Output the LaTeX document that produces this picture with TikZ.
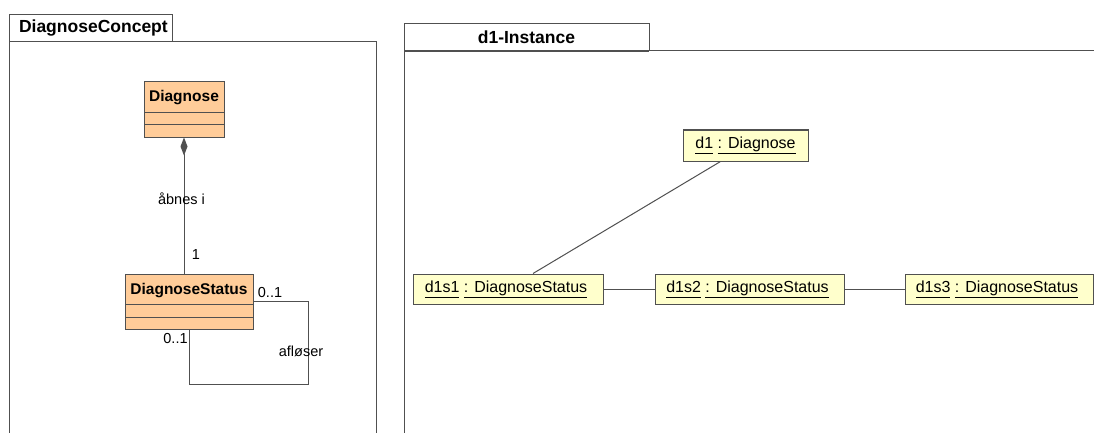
\documentclass[tikz,border=0pt]{standalone}
\usepackage{fontspec}
\setmainfont{Liberation Sans}
\usetikzlibrary{arrows.meta}

\definecolor{classfill}{HTML}{FFCC99}
\definecolor{objfill}{HTML}{FFFFCC}
\definecolor{umlline}{HTML}{505050}

\newcommand{\objname}[2]{\underline{\vphantom{g}#1} \underline{\vphantom{g}: #2}}

\begin{document}
\begin{tikzpicture}[
    x=1pt, y=-1pt,
    line/.style={draw=umlline, line width=1pt},
    pkgtab/.style={line, fill=white, minimum height=27pt, inner sep=0pt, font=\fontsize{17.5}{17.5}\selectfont\bfseries},
    umlclass/.style={line, fill=classfill, inner xsep=0pt, inner ysep=0pt, text height=20pt, text depth=35pt,
        font=\fontsize{15.5}{15.5}\selectfont\bfseries,
        path picture={
            \draw[line] ([yshift=12pt]path picture bounding box.south west) -- ([yshift=12pt]path picture bounding box.south east);
            \draw[line] ([yshift=24.5pt]path picture bounding box.south west) -- ([yshift=24.5pt]path picture bounding box.south east);
        }},
    umlobject/.style={line, fill=objfill, minimum height=30pt, inner sep=0pt, font=\fontsize{16}{16}\selectfont},
    assoc/.style={line},
    mult/.style={font=\fontsize{14.5}{14.5}\selectfont, inner sep=0pt}
]
\useasboundingbox[fill=white] (0,0) rectangle (1094,433);

% package DiagnoseConcept
\draw[line] (9,433) -- (9,42) -- (376,42) -- (376,433);
\node[pkgtab, minimum width=163pt, text width=143pt, align=left] (concepttab) at (90.5,28.5) {DiagnoseConcept};

% classes
\node[umlclass, minimum width=80pt] (diag) at (184,109.5) {Diagnose};
\node[umlclass, minimum width=128pt] (stat) at (189,301.5) {DiagnoseStatus};

% composition
\draw[assoc, {Diamond[length=18pt, width=7pt, fill=umlline]}-] (diag.south) -- (diag.south |- stat.north);
\node[mult] (abnes) at (181.5,199) {åbnes i};
\node[mult] (one) at (196,255) {1};

% self association
\coordinate (loopcorner) at (308,384);
\draw[assoc] (stat.east) -| (loopcorner) -| (stat.south);
\node[mult] (multa) at (270,293) {0..1};
\node[mult] (multb) at (175.5,339) {0..1};
\node[mult] (afloser) at (301,351) {afløser};

% package d1-Instance
\draw[line] (404,433) -- (404,51) -- (1094,51);
\draw[line, line width=1.6pt] (404,51) -- (649,51);
\node[pkgtab, minimum width=245pt] (insttab) at (526.5,37.5) {d1-Instance};

% objects
\node[umlobject, minimum width=125pt, minimum height=31pt] (d1) at (745.5,145.5) {\objname{d1}{Diagnose}};
\node[umlobject, minimum width=190pt] (d1s1) at (508,289) {\hspace{-4pt}\objname{d1s1}{DiagnoseStatus}};
\node[umlobject, minimum width=189pt] (d1s2) at (749.5,289) {\hspace{-4pt}\objname{d1s2}{DiagnoseStatus}};
\node[umlobject, minimum width=188pt] (d1s3) at (999,289) {\hspace{-4pt}\objname{d1s3}{DiagnoseStatus}};

% links
\draw[assoc] ([xshift=-25pt]d1.south) -- ([xshift=25pt]d1s1.north);
\draw[assoc] (d1s1) -- (d1s2);
\draw[assoc] (d1s2) -- (d1s3);
\end{tikzpicture}
\end{document}
